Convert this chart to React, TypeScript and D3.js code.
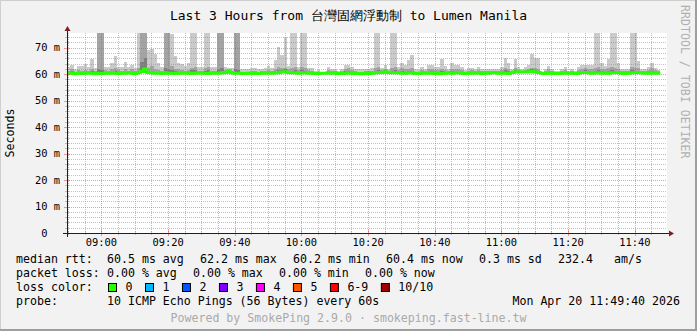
import React from 'react';
import * as d3 from 'd3';

// ---------- data (one value per minute, 08:49:40 -> 11:49:40) ----------
const medianRtt: (number | null)[] = [
  60.4,60.5,60.2,60.3,60.3,60.4,60.5,60.4,60.2,60.3,60.3,60.4,60.4,60.5,60.4,60.3,60.4,60.4,
  60.5,60.4,60.3,60.6,61.0,62.0,60.6,60.5,60.4,60.4,60.3,60.5,60.4,60.4,60.3,60.4,60.5,60.4,
  60.4,60.3,60.4,60.5,60.4,60.4,60.3,60.6,60.4,60.4,60.5,60.6,61.2,60.5,60.4,60.4,60.3,60.3,
  60.4,60.4,60.3,60.3,60.4,60.4,60.5,60.4,60.5,60.6,60.8,60.9,60.6,60.5,60.5,60.4,60.5,60.5,
  60.4,60.4,60.3,60.3,60.4,60.4,60.5,60.4,60.4,60.3,60.3,60.4,60.5,60.4,60.3,60.3,60.2,60.3,
  60.3,60.4,60.5,60.6,60.6,60.9,60.6,60.5,60.5,60.5,60.4,60.4,60.5,60.5,60.3,60.3,60.4,60.4,
  60.4,60.5,60.3,60.2,60.3,60.4,60.5,60.4,60.5,60.5,60.4,60.3,60.4,60.6,60.4,60.5,60.3,60.4,
  60.4,60.5,60.6,60.4,60.5,60.4,60.3,60.6,60.8,60.9,60.8,60.8,60.9,61.0,60.8,60.6,60.4,60.3,
  60.4,60.4,60.3,60.3,60.4,60.5,60.4,60.4,60.3,60.4,60.6,60.6,60.5,60.4,60.5,60.5,60.4,60.5,
  60.4,60.5,60.5,60.6,60.4,60.3,60.4,60.5,60.5,60.6,60.5,60.4,60.4,60.5,60.4,60.4,null,null,
];

const maxRtt: (number | null)[] = [
  62.6,63.5,61.8,63.1,63.1,63.7,62.6,65.7,62.2,76,76,62.6,62.6,64.1,66.9,62.8,62.6,64.6,
  62.6,63.5,62.2,76,76,76,69.1,69.4,67.6,64.1,62.6,76,76,75,67,64.1,63.7,63.1,
  64.1,75.5,76,62.6,62.6,76,76,62.6,62.6,76,76,62.8,62.2,62.2,76,76,61.8,61.8,
  61.8,62.2,62.2,61.8,61.8,62.2,63.1,62.2,65.4,70.4,67.3,74.2,63.1,76,76,62.8,76,76,
  62.2,62.2,61.3,61.5,61.0,61.0,62.6,61.8,61.8,61.3,61.8,63.5,63.5,62.6,61.8,61.8,61.8,61.8,
  61.8,62.2,76,76,62.2,63.5,61.8,76,76,62.8,64.1,63.5,65.5,67.3,61.8,61.5,62.6,61.8,
  63.5,63.5,62.8,62.8,65.7,63.1,61.8,64.1,63.5,63.5,62.6,61.5,62.2,62.2,61.8,62.6,61.8,61.8,
  61.8,61.8,61.8,61.8,62.6,66.0,64.1,61.8,65.6,62.6,61.8,62.8,63.5,67.5,66.3,66.3,61.0,61.8,
  63.1,61.8,61.3,61.3,61.8,62.6,61.3,61.8,61.3,62.6,63.5,63.5,63.5,63.5,76,76,64.1,63.1,
  65.6,76,76,64.1,61.8,61.8,61.8,76,76,65.1,61.8,61.8,62.6,64.1,62.2,61.5,null,null,
];

const ping9Rtt: (number | null)[] = [
  61.3,62.0,61.0,61.5,61.3,61.6,61.2,62.0,61.1,76,76,61.4,61.3,61.8,62.2,61.4,61.3,61.8,
  61.3,61.8,61.2,62.5,76,76,62.5,63.0,62.0,61.5,61.2,76,76,63.0,62.0,61.8,61.5,61.3,
  61.6,62.5,62.8,61.3,61.2,62.5,62.8,61.3,61.2,76,76,61.6,61.8,61.3,76,76,61.0,61.0,
  61.0,61.2,61.3,61.0,61.1,61.2,61.6,61.3,62.0,62.8,62.2,62.5,61.8,62.5,62.8,61.6,62.8,62.5,
  61.4,61.3,61.0,61.0,60.9,60.9,61.5,61.1,61.1,61.0,61.2,62.0,62.2,61.5,61.1,61.0,61.0,61.1,
  61.1,61.3,62.5,62.8,61.4,61.8,61.2,62.5,62.8,61.6,62.2,61.8,62.0,62.2,61.0,61.0,61.5,61.2,
  61.8,62.0,61.5,61.4,62.0,61.6,61.1,62.0,61.8,61.8,61.4,61.0,61.3,61.5,61.2,61.5,61.1,61.1,
  61.1,61.2,61.2,61.1,61.6,62.5,62.0,61.2,62.3,61.6,61.2,61.5,61.8,62.5,62.2,62.0,60.8,61.1,
  61.8,61.1,61.0,61.0,61.1,61.5,61.0,61.2,61.0,61.6,62.0,62.3,62.0,61.8,62.5,62.8,62.0,61.8,
  62.5,62.8,62.5,62.0,61.2,61.1,61.2,62.8,62.5,62.2,61.1,61.1,61.6,62.2,61.4,61.1,null,null,
];

const ping8Rtt: (number | null)[] = [
  60.9,61.3,60.6,60.9,60.8,61.0,60.9,61.1,60.7,62.0,61.5,60.9,60.8,61.0,61.2,60.8,60.8,61.0,
  60.9,61.0,60.7,61.3,64.5,66.0,61.3,61.3,61.0,60.9,60.7,62.5,62.0,61.5,61.2,61.0,61.0,60.8,
  61.0,61.4,61.5,60.8,60.8,61.3,61.5,60.9,60.8,62.0,62.5,61.2,61.7,60.9,62.0,61.5,60.7,60.6,
  60.7,60.8,60.8,60.6,60.7,60.8,61.0,60.8,61.3,61.5,61.5,61.8,61.2,61.3,61.5,61.0,61.4,61.2,
  60.9,60.8,60.6,60.6,60.7,60.7,61.0,60.7,60.7,60.6,60.7,61.2,61.3,60.9,60.6,60.6,60.5,60.6,
  60.6,60.8,61.3,61.5,61.0,61.4,60.9,61.2,61.4,61.0,61.2,61.0,61.2,61.2,60.6,60.6,60.9,60.8,
  61.0,61.1,60.8,60.7,61.2,60.9,60.8,61.1,61.0,61.0,60.8,60.6,60.8,61.0,60.7,60.9,60.6,60.7,
  60.7,60.8,60.9,60.7,61.0,61.5,61.2,60.9,61.5,61.3,61.1,61.1,61.4,61.8,61.4,61.2,60.6,60.6,
  61.0,60.7,60.6,60.6,60.7,61.0,60.7,60.8,60.6,61.0,61.3,61.4,61.2,61.0,61.2,61.5,61.1,61.0,
  61.3,61.5,61.3,61.2,60.8,60.6,60.8,61.4,61.2,61.2,60.8,60.7,61.0,61.2,60.9,60.7,null,null,
];

const minRtt: (number | null)[] = [
  60.1,60.2,59.9,60.0,60.0,60.1,60.2,60.1,59.9,60.0,60.0,60.1,60.1,60.2,60.1,60.0,60.1,60.1,
  60.2,60.1,60.0,60.2,60.4,60.6,60.3,60.2,60.1,60.1,60.0,60.2,60.1,60.1,60.0,60.1,60.2,60.1,
  60.1,60.0,60.1,60.2,60.1,60.1,60.0,60.3,60.1,60.1,60.2,60.3,60.6,60.2,60.1,60.1,60.0,60.0,
  60.1,60.1,60.0,60.0,60.1,60.1,60.2,60.1,60.2,60.3,60.4,60.5,60.3,60.2,60.2,60.1,60.2,60.2,
  60.1,60.1,60.0,60.0,60.1,60.1,60.2,60.1,60.1,60.0,60.0,60.1,60.2,60.1,60.0,60.0,59.9,60.0,
  60.0,60.1,60.2,60.3,60.3,60.5,60.3,60.2,60.2,60.2,60.1,60.1,60.2,60.2,60.0,60.0,60.1,60.1,
  60.1,60.2,60.0,59.9,60.0,60.1,60.2,60.1,60.2,60.2,60.1,60.0,60.1,60.3,60.1,60.2,60.0,60.1,
  60.1,60.2,60.3,60.1,60.2,60.1,60.0,60.3,60.5,60.5,60.5,60.5,60.5,60.6,60.5,60.3,60.1,60.0,
  60.1,60.1,60.0,60.0,60.1,60.2,60.1,60.1,60.0,60.1,60.3,60.3,60.2,60.1,60.2,60.2,60.1,60.2,
  60.1,60.2,60.2,60.3,60.1,60.0,60.1,60.2,60.2,60.3,60.2,60.1,60.1,60.2,60.1,60.1,null,null,
];

const yTickValues = [0, 10, 20, 30, 40, 50, 60, 70];
const yTickLabels = ['0', '10 m', '20 m', '30 m', '40 m', '50 m', '60 m', '70 m'];
const Y_MAX = 75.56;

const titleText = 'Last 3 Hours from 台灣固網浮動制 to Lumen Manila';
const rttItems = ['60.5 ms avg', '62.2 ms max', '60.2 ms min', '60.4 ms now', '0.3 ms sd', '232.4', 'am/s'];
const lossItems = ['0.00 % avg', '0.00 % max', '0.00 % min', '0.00 % now'];
const lossLabels = ['0', '1', '2', '3', '4', '5', '6-9', '10/10'];
const lossColors = ['#26ff00', '#00b8ff', '#0059ff', '#7e00ff', '#ff00ff', '#ff5500', '#ff0000', '#a10000'];
const probeText = '10 ICMP Echo Pings (56 Bytes) every 60s';
const dateText = 'Mon Apr 20 11:49:40 2026';
const footerText = 'Powered by SmokePing 2.9.0 · smokeping.fast-line.tw';
const sideText = 'RRDTOOL / TOBI OETIKER';

// ---------- layout ----------
const W = 697, H = 331;
const PL = 67, PR = 667, PT = 33, PB = 233;
const FONT = "'DejaVu Sans Mono', monospace";
const LFS = 11.6;
const CW = LFS * 0.602;
const rttX = [107, 200, 293, 386, 479, 558, 614];

export default function App() {
  const start = new Date(2026, 3, 20, 8, 49, 40);
  const end = new Date(start.getTime() + 180 * 60000);
  const x = d3.scaleTime().domain([start, end]).range([PL, PR]);
  const y = d3.scaleLinear().domain([0, Y_MAX]).range([PB, PT]);
  const tAt = (i: number) => new Date(start.getTime() + i * 60000);

  type P = { t: Date; lo: number | null; hi: number | null };
  const stepPts = (lo: (number | null)[], hi: (number | null)[]): P[] => {
    const out: P[] = [];
    hi.forEach((v, i) => {
      out.push({ t: tAt(i), lo: lo[i], hi: v });
      out.push({ t: tAt(i + 1), lo: lo[i], hi: v });
    });
    return out;
  };

  const area = d3
    .area<P>()
    .defined((d) => d.hi != null && d.lo != null)
    .x((d) => x(d.t))
    .y0((d) => y(d.lo as number))
    .y1((d) => y(d.hi as number));

  const line = d3
    .line<P>()
    .defined((d) => d.hi != null)
    .x((d) => x(d.t))
    .y((d) => y(d.hi as number));

  const bands = [
    { hi: maxRtt, color: '#cacaca' },
    { hi: ping9Rtt, color: '#a4a4a4' },
    { hi: ping8Rtt, color: '#7e7e7e' },
  ];

  const minorX = d3.timeMinute.every(5)!.range(start, end).filter((d) => d.getMinutes() % 20 !== 0);
  const majorX = d3.timeMinute.every(20)!.range(start, end);
  const minorY = d3.range(2, Y_MAX, 2).filter((v) => v % 10 !== 0);
  const majorY = yTickValues.filter((v) => v > 0);
  const fmt = d3.timeFormat('%H:%M');
  const rp = (v: number) => Math.round(v) + 0.5;

  const gridC = 'rgba(143,143,143,0.55)';
  const mgridC = 'rgba(222,79,79,0.55)';

  // loss legend layout
  const sqX: number[] = [];
  let cx = 108.5;
  lossLabels.forEach((l) => {
    sqX.push(cx);
    cx = cx + 17 + l.length * CW + 13;
  });

  return (
    <svg width={W} height={H} style={{ position: 'absolute', left: 0, top: 0 }} fontFamily={FONT}>
      <defs>
        <clipPath id="plotclip">
          <rect x={PL} y={PT} width={PR - PL} height={PB - PT} />
        </clipPath>
      </defs>
      <rect x={0} y={0} width={W} height={H} fill="#f2f2f2" />
      {/* 3d frame */}
      <path d={`M0,${H} V0 H${W}`} fill="none" stroke="#cfcfcf" strokeWidth={2} />
      <path d={`M0,${H - 1} H${W - 1} V0`} fill="none" stroke="#9e9e9e" strokeWidth={2} />
      <rect x={PL} y={PT} width={PR - PL} height={PB - PT} fill="#ffffff" />

      <g clipPath="url(#plotclip)" shapeRendering="crispEdges">
        {bands.map((b, i) => (
          <path key={i} d={area(stepPts(minRtt, b.hi)) || ''} fill={b.color} />
        ))}
      </g>

      {/* grid */}
      <g strokeDasharray="1,1" strokeWidth={1} shapeRendering="crispEdges">
        {minorY.map((v) => (
          <line key={'my' + v} x1={PL} x2={PR} y1={rp(y(v))} y2={rp(y(v))} stroke={gridC} />
        ))}
        {minorX.map((d) => (
          <line key={'mx' + d.getTime()} x1={rp(x(d))} x2={rp(x(d))} y1={PT} y2={PB} stroke={gridC} />
        ))}
        {majorY.map((v) => (
          <line key={'My' + v} x1={PL} x2={PR} y1={rp(y(v))} y2={rp(y(v))} stroke={mgridC} />
        ))}
        {majorX.map((d) => (
          <line key={'Mx' + d.getTime()} x1={rp(x(d))} x2={rp(x(d))} y1={PT} y2={PB} stroke={mgridC} />
        ))}
      </g>

      {/* median line */}
      <g clipPath="url(#plotclip)">
        <path
          d={line(stepPts(medianRtt, medianRtt)) || ''}
          fill="none"
          stroke={lossColors[0]}
          strokeWidth={3}
          strokeLinejoin="miter"
        />
      </g>

      {/* ticks */}
      <g shapeRendering="crispEdges">
        {minorX.map((d) => (
          <line key={'tx' + d.getTime()} x1={rp(x(d))} x2={rp(x(d))} y1={PB - 2} y2={PB + 2} stroke={gridC} />
        ))}
        {majorX.map((d) => (
          <line key={'tX' + d.getTime()} x1={rp(x(d))} x2={rp(x(d))} y1={PB - 3} y2={PB + 3} stroke={mgridC} />
        ))}
        {minorY.map((v) => (
          <line key={'ty' + v} x1={PL - 2} x2={PL + 2} y1={rp(y(v))} y2={rp(y(v))} stroke={gridC} />
        ))}
        {majorY.map((v) => (
          <line key={'tY' + v} x1={PL - 3} x2={PL + 3} y1={rp(y(v))} y2={rp(y(v))} stroke={mgridC} />
        ))}
      </g>

      {/* axes */}
      <g shapeRendering="crispEdges">
        <line x1={PL - 4} x2={PR + 3} y1={PB + 0.5} y2={PB + 0.5} stroke="#1f1f1f" />
        <line x1={PL + 0.5} x2={PL + 0.5} y1={PB + 4} y2={PT - 4} stroke="#1f1f1f" />
      </g>
      <path d={`M${PR + 2},${PB - 2.5} L${PR + 7},${PB + 0.5} L${PR + 2},${PB + 3.5} Z`} fill="#801f1f" />
      <path d={`M${PL - 2.5},${PT - 2} L${PL + 0.5},${PT - 7} L${PL + 3.5},${PT - 2} Z`} fill="#801f1f" />

      {/* y labels */}
      <g fontSize={10.4} fill="#000">
        {yTickValues.map((v, i) => (
          <text
            key={'yl' + v}
            x={60}
            dx={yTickLabels[i].includes(' ') ? 0 : -12.5}
            y={y(v)}
            dy="0.35em"
            textAnchor="end"
          >
            {yTickLabels[i]}
          </text>
        ))}
      </g>
      {/* x labels */}
      <g fontSize={10.4} fill="#000">
        {majorX.map((d) => (
          <text key={'xl' + d.getTime()} x={x(d)} y={246} textAnchor="middle">
            {fmt(d)}
          </text>
        ))}
      </g>

      {/* title */}
      <text x={348.5} y={20} textAnchor="middle" fontSize={13} fill="#000">
        {titleText}
      </text>

      {/* y axis title */}
      <text transform="translate(14,133) rotate(-90)" textAnchor="middle" fontSize={LFS} fill="#000">
        Seconds
      </text>

      {/* side watermark */}
      <text transform="translate(681,5) rotate(90)" textAnchor="start" fontSize={LFS} fill="#b0b0b0">
        {sideText}
      </text>

      {/* legend */}
      <g fontSize={LFS} fill="#000">
        <text x={16} y={263}>median rtt:</text>
        {rttItems.map((t, i) => (
          <text key={'r' + i} x={rttX[i]} y={263}>
            {t}
          </text>
        ))}
        <text x={16} y={277}>packet loss:</text>
        {lossItems.map((t, i) => (
          <text key={'l' + i} x={107 + i * 86} y={277}>
            {t}
          </text>
        ))}
        <text x={16} y={291}>loss color:</text>
        {lossLabels.map((l, i) => (
          <g key={'lc' + i}>
            <rect x={sqX[i]} y={283.5} width={8} height={8} fill={lossColors[i]} stroke="#000" strokeWidth={1} />
            <text x={sqX[i] + 17} y={291}>
              {l}
            </text>
          </g>
        ))}
        <text x={16} y={305}>probe:</text>
        <text x={107} y={305}>{probeText}</text>
        <text x={680} y={305} textAnchor="end">
          {dateText}
        </text>
        <text x={348.5} y={322} textAnchor="middle" fill="#aaaaaa">
          {footerText}
        </text>
      </g>
    </svg>
  );
}
